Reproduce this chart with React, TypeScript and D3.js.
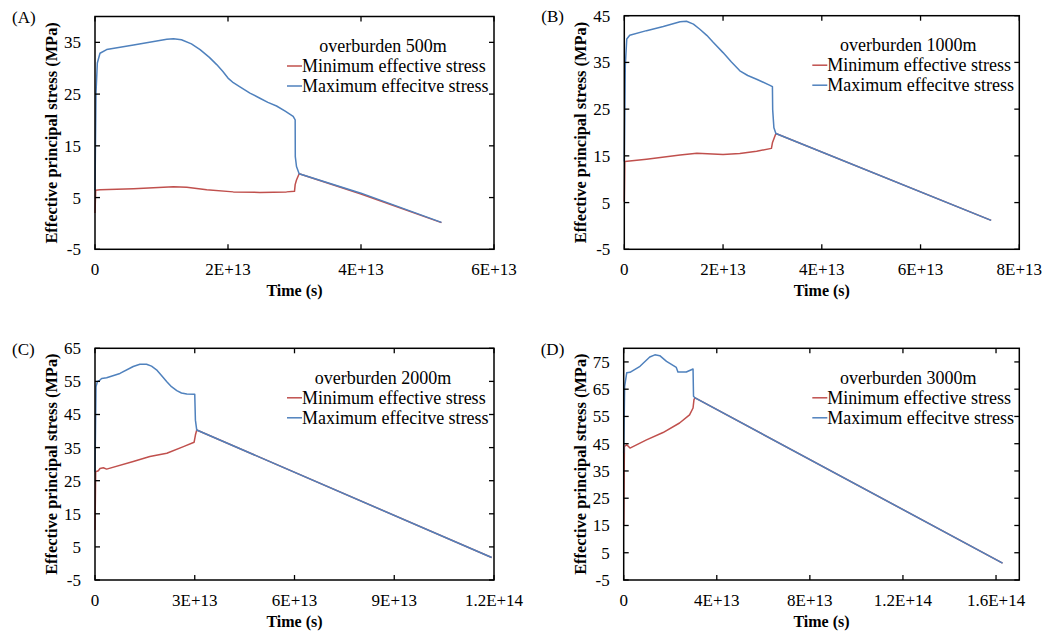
import * as d3 from 'd3'
import { useRef, useEffect } from 'react'

// time in units of 1e13 s, stress in MPa
const aMin: [number, number][] = [[0, 2.0], [0.01, 6.4], [0.075, 6.5], [0.58, 6.7], [1.18, 7.1], [1.38, 7.0], [1.68, 6.5], [2.08, 6.1], [2.48, 6.0], [2.88, 6.1], [3.0, 6.2], [3.01, 7.5], [3.03, 8.4], [3.07, 9.6], [4.0, 5.7], [5.21, 0.15]]
const aMax: [number, number][] = [[0, 6.4], [0.015, 25.2], [0.035, 31], [0.075, 32.9], [0.175, 33.6], [0.58, 34.5], [1.08, 35.6], [1.18, 35.7], [1.3, 35.5], [1.45, 34.7], [1.58, 33.6], [1.72, 32.1], [1.83, 30.7], [1.92, 29.4], [2.0, 28.1], [2.08, 27.2], [2.18, 26.4], [2.33, 25.2], [2.48, 24.2], [2.6, 23.4], [2.73, 22.7], [2.86, 21.7], [2.98, 20.7], [3.01, 20.0], [3.012, 12.9], [3.03, 11], [3.07, 9.6], [4.0, 5.85], [5.21, 0.2]]

const bMin: [number, number][] = [[0, 5.2], [0.01, 13.8], [0.45, 14.3], [1.13, 15.2], [1.47, 15.55], [2.0, 15.3], [2.34, 15.5], [2.68, 16.0], [2.98, 16.6], [3.0, 17.8], [3.07, 19.8], [7.43, 1.2]]
const bMax: [number, number][] = [[0, 13.8], [0.02, 34.3], [0.05, 40], [0.11, 40.8], [0.45, 41.8], [0.79, 42.7], [1.13, 43.7], [1.26, 43.8], [1.4, 43.2], [1.53, 42.1], [1.67, 40.8], [1.8, 39.3], [2.0, 37.1], [2.17, 35.1], [2.34, 33.2], [2.5, 32.2], [2.68, 31.4], [2.95, 30.1], [3.0, 29.8], [3.005, 24.9], [3.03, 21], [3.07, 19.8], [7.43, 1.2]]

const cMin: [number, number][] = [[0, 10.1], [0.02, 27.7], [0.1, 28], [0.15, 28.7], [0.25, 28.9], [0.35, 28.5], [1.15, 30.8], [1.65, 32.3], [2.16, 33.3], [2.66, 35.3], [2.98, 36.6], [3.02, 38.8], [3.06, 40.3], [11.93, 1.8]]
const cMax: [number, number][] = [[0, 27.7], [0.03, 53.4], [0.07, 54.9], [0.15, 55.4], [0.2, 55.9], [0.35, 56.1], [0.75, 57.4], [1.15, 59.5], [1.35, 60.2], [1.55, 60.2], [1.7, 59.6], [1.85, 58.5], [2.0, 56.8], [2.16, 54.9], [2.3, 53.4], [2.46, 52.2], [2.6, 51.5], [2.76, 51.2], [3.0, 51.1], [3.02, 43.3], [3.06, 40.3], [11.93, 1.8]]

const dMin: [number, number][] = [[0, 15.2], [0.03, 44], [0.13, 44.6], [0.27, 43.4], [0.98, 46.4], [1.69, 49.1], [2.4, 52.6], [2.83, 55.6], [2.98, 58.1], [3.02, 61.2], [3.07, 61.8], [16.28, 1.2]]
const dMax: [number, number][] = [[0, 41.6], [0.04, 66], [0.13, 71], [0.27, 71.2], [0.7, 73.4], [1.12, 76.8], [1.34, 77.6], [1.55, 77.3], [1.84, 75.2], [2.26, 73], [2.33, 71.3], [2.69, 71.3], [2.98, 72.4], [3.0, 62.4], [3.07, 61.8], [16.28, 1.2]]

const aXTicks = [0, 2, 4, 6]
const bXTicks = [0, 2, 4, 6, 8]
const cXTicks = [0, 3, 6, 9, 12]
const dXTicks = [0, 4, 8, 12, 16]
const xTickLabels: Record<number, string> = { 0: '0', 2: '2E+13', 3: '3E+13', 4: '4E+13', 6: '6E+13', 8: '8E+13', 9: '9E+13', 12: '1.2E+14', 16: '1.6E+14' }

const panels = [
    { label: '(A)', title: 'overburden 500m', min: aMin, max: aMax, xMax: 6, xTicks: aXTicks, yMax: 40, box: [95, 16.5, 494, 249.3] },
    { label: '(B)', title: 'overburden 1000m', min: bMin, max: bMax, xMax: 8, xTicks: bXTicks, yMax: 45, box: [624.3, 15.7, 1019.3, 249.3] },
    { label: '(C)', title: 'overburden 2000m', min: cMin, max: cMax, xMax: 12, xTicks: cXTicks, yMax: 65, box: [95, 348.3, 494, 580] },
    { label: '(D)', title: 'overburden 3000m', min: dMin, max: dMax, xMax: 17, xTicks: dXTicks, yMax: 80, box: [623.7, 348.3, 1019.3, 580] },
]

const RED = '#C0504D'
const BLUE = '#4F81BD'
const FONT = 'Liberation Serif'

export default function App() {
    const svgRef = useRef<SVGSVGElement>(null)

    useEffect(() => {
        const svg = d3.select(svgRef.current)
        svg.selectAll('*').remove()
        svg.append('rect').attr('width', 1064).attr('height', 632).attr('fill', 'white')

        panels.forEach(p => {
            const [x0, y0, x1, y1] = p.box
            const g = svg.append('g').style('font-family', FONT)

            const x = d3.scaleLinear().domain([0, p.xMax]).range([x0, x1])
            const y = d3.scaleLinear().domain([-5, p.yMax]).range([y1, y0])
            const yTicks = d3.range(-5, p.yMax + 0.1, 10)

            const line = d3.line<[number, number]>()
                .x(d => x(d[0]))
                .y(d => y(d[1]))

            g.append('path').datum(p.min)
                .attr('d', line).attr('fill', 'none').attr('stroke-linejoin', 'round')
                .attr('stroke', RED).attr('stroke-width', 1.5)
            g.append('path').datum(p.max)
                .attr('d', line).attr('fill', 'none').attr('stroke-linejoin', 'round')
                .attr('stroke', BLUE).attr('stroke-width', 1.5)

            // inward ticks on all four sides
            const tl = 5
            yTicks.forEach(t => {
                g.append('line').attr('x1', x0).attr('x2', x0 + tl).attr('y1', y(t)).attr('y2', y(t)).attr('stroke', 'black').attr('stroke-width', 1.3)
                g.append('line').attr('x1', x1).attr('x2', x1 - tl).attr('y1', y(t)).attr('y2', y(t)).attr('stroke', 'black').attr('stroke-width', 1.3)
                g.append('text').attr('x', x0 - 14).attr('y', y(t)).attr('dy', '0.35em')
                    .attr('text-anchor', 'end').attr('font-size', 17).text(t)
            })
            p.xTicks.forEach(t => {
                g.append('line').attr('x1', x(t)).attr('x2', x(t)).attr('y1', y1).attr('y2', y1 - tl).attr('stroke', 'black').attr('stroke-width', 1.3)
                g.append('line').attr('x1', x(t)).attr('x2', x(t)).attr('y1', y0).attr('y2', y0 + tl).attr('stroke', 'black').attr('stroke-width', 1.3)
                g.append('text').attr('x', x(t)).attr('y', y1 + 26)
                    .attr('text-anchor', 'middle').attr('font-size', 17).text(xTickLabels[t])
            })

            g.append('rect').attr('x', x0).attr('y', y0).attr('width', x1 - x0).attr('height', y1 - y0)
                .attr('fill', 'none').attr('stroke', 'black').attr('stroke-width', 1.5)

            g.append('text').attr('x', (x0 + x1) / 2).attr('y', y1 + 47)
                .attr('text-anchor', 'middle').attr('font-size', 16).attr('font-weight', 'bold').text('Time (s)')
            g.append('text')
                .attr('transform', `translate(${x0 - 38},${(y0 + y1) / 2}) rotate(-90)`)
                .attr('text-anchor', 'middle').attr('font-size', 16.4).attr('font-weight', 'bold')
                .text('Effective principal stress (MPa)')

            g.append('text').attr('x', x0 - 83).attr('y', y0 + 6.5).attr('font-size', 17).text(p.label)

            // legend
            g.append('text').attr('x', x1 - 111).attr('y', y0 + 35.5)
                .attr('text-anchor', 'middle').attr('font-size', 18).text(p.title)
            const items = [{ name: 'Minimum effective stress', color: RED }, { name: 'Maximum effecitve stress', color: BLUE }]
            items.forEach((it, i) => {
                const by = y0 + 55.5 + i * 20
                g.append('line').attr('x1', x1 - 207).attr('x2', x1 - 192).attr('y1', by - 6).attr('y2', by - 6)
                    .attr('stroke', it.color).attr('stroke-width', 1.5)
                g.append('text').attr('x', x1 - 192).attr('y', by).attr('font-size', 18).text(it.name)
            })
        })
    }, [])

    return (
        <svg ref={svgRef} width={1064} height={632}
            style={{ display: 'block', position: 'absolute', left: 0, top: 0 }}></svg>
    )
}
